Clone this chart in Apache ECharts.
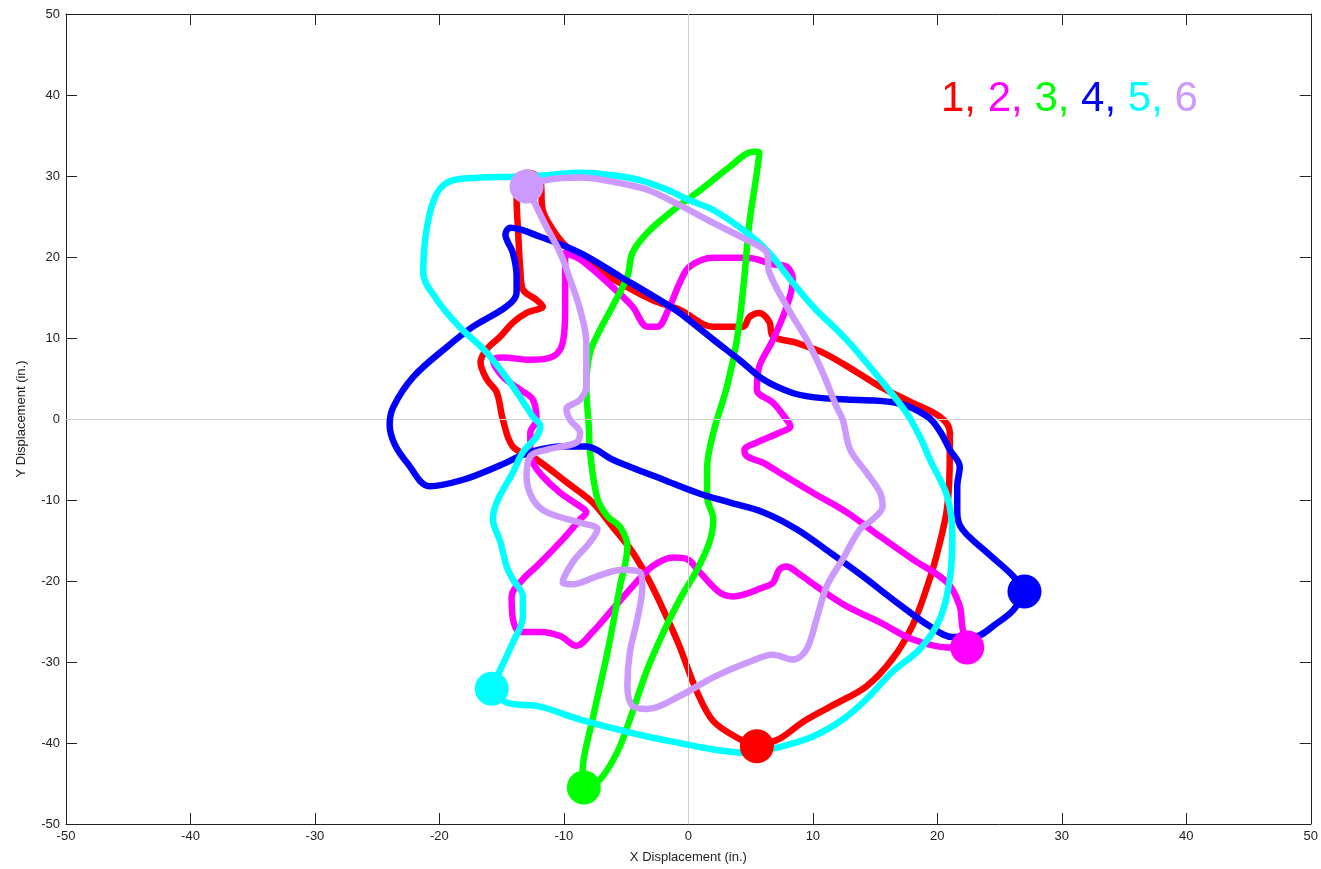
<!DOCTYPE html>
<html>
<head>
<meta charset="utf-8">
<script src="https://cdn.jsdelivr.net/npm/echarts@6/dist/echarts.min.js"></script>
<style>
  html, body { margin: 0; padding: 0; background: #ffffff; }
  #chart { width: 1321px; height: 869px; }
</style>
</head>
<body>
<div id="chart"></div>
<script>
// Walking paths, X/Y displacement in inches; each path starts (and ends) at its marker.
const path1 = [[5.5,-40.4],[4.1,-39.5],[2.0,-37.3],[0.7,-33.7],[-0.7,-28.1],[-1.2,-26.3],[-2.9,-20.7],[-4.5,-16.4],[-6.1,-13.3],[-7.7,-10.3],[-9.8,-7.8],[-12.2,-5.0],[-14.1,-3.4],[-14.9,-0.1],[-15.4,3.3],[-16.2,4.9],[-16.7,7.0],[-16.2,8.6],[-15.1,10.2],[-14.1,11.9],[-13.0,13.1],[-11.7,13.9],[-12.2,14.7],[-13.3,16.0],[-13.5,18.4],[-13.7,23.7],[-13.8,27.1],[-13.5,29.9],[-12.9,30.4],[-11.9,29.5],[-11.7,25.8],[-10.9,23.4],[-9.8,21.3],[-7.7,18.8],[-5.5,16.8],[-2.9,14.7],[-0.7,13.5],[2.0,11.4],[4.4,11.4],[4.9,12.6],[5.7,13.1],[6.5,12.0],[6.8,10.2],[8.7,9.4],[10.8,8.2],[13.2,6.1],[15.4,4.0],[18.0,2.0],[20.2,0.3],[21.0,-1.6],[21.0,-4.1],[20.8,-10.8],[20.0,-16.5],[19.2,-20.6],[18.0,-25.5],[16.4,-29.6],[14.3,-33.0],[11.4,-35.5],[9.2,-37.4],[7.3,-39.5],[5.5,-40.4]];

const path2 = [[22.4,-28.2],[20.8,-28.2],[18.0,-27.2],[15.4,-25.1],[12.7,-23.1],[10.6,-21.0],[8.7,-18.9],[7.9,-18.2],[7.3,-18.6],[6.8,-20.2],[6.0,-20.8],[3.6,-21.9],[2.5,-21.4],[0.9,-18.9],[-0.1,-17.3],[-1.2,-17.1],[-2.9,-18.2],[-4.5,-20.7],[-6.1,-23.5],[-7.7,-26.3],[-9.0,-28.0],[-10.3,-26.8],[-11.9,-26.3],[-13.5,-26.3],[-14.1,-24.7],[-14.2,-21.9],[-13.3,-19.8],[-12.2,-18.2],[-10.3,-15.2],[-8.7,-12.4],[-8.2,-11.5],[-8.7,-10.8],[-10.3,-9.1],[-11.7,-7.1],[-12.5,-5.4],[-12.7,-3.8],[-12.7,-1.7],[-12.2,-0.1],[-12.5,2.4],[-13.5,3.6],[-14.9,5.2],[-15.7,7.3],[-14.9,7.6],[-12.7,7.3],[-10.9,7.7],[-10.1,9.4],[-9.9,13.5],[-9.9,17.6],[-9.9,20.5],[-8.7,19.7],[-6.1,16.3],[-4.5,13.9],[-3.3,11.4],[-2.5,11.4],[-1.5,13.9],[-0.7,16.8],[0.1,18.8],[2.0,19.9],[4.7,19.9],[6.8,19.1],[7.9,18.8],[8.4,17.2],[7.9,13.9],[6.8,9.8],[5.7,6.5],[5.5,3.6],[6.8,2.0],[7.9,-0.1],[8.2,-0.9],[7.3,-1.7],[5.5,-2.9],[4.5,-3.8],[4.7,-4.6],[6.0,-5.4],[7.3,-6.6],[10.0,-9.1],[12.7,-11.5],[15.4,-14.5],[18.0,-17.3],[20.8,-20.2],[21.8,-23.1],[22.0,-25.6],[22.4,-28.2]];

const path3 = [[-8.4,-45.5],[-8.5,-43.6],[-7.7,-37.1],[-6.5,-28.8],[-5.5,-20.7],[-4.9,-15.7],[-5.5,-13.3],[-6.5,-12.0],[-7.3,-9.9],[-7.9,-4.1],[-8.0,-0.9],[-8.2,4.0],[-7.9,8.2],[-7.1,11.0],[-6.1,13.9],[-4.9,17.6],[-4.5,20.5],[-3.3,23.0],[-1.2,25.8],[0.9,28.2],[3.3,31.1],[5.2,33.0],[5.7,32.9],[5.5,30.4],[4.9,24.2],[4.4,16.0],[3.9,9.8],[3.1,4.0],[2.0,-1.7],[1.5,-6.2],[1.5,-9.6],[2.0,-12.4],[1.7,-15.2],[0.7,-18.6],[-0.7,-22.3],[-2.0,-26.3],[-3.3,-30.9],[-4.7,-37.1],[-5.7,-41.1],[-7.1,-44.5],[-8.4,-45.5]];

const path4 = [[27.0,-21.3],[26.1,-19.4],[24.0,-16.5],[22.0,-13.6],[21.6,-11.5],[21.6,-8.3],[21.8,-5.9],[21.0,-3.8],[20.2,-1.5],[19.2,0.3],[16.7,2.0],[12.7,2.4],[10.0,2.7],[8.2,3.3],[6.0,4.9],[4.1,7.3],[2.0,9.8],[-0.7,13.1],[-2.0,14.4],[-5.5,17.6],[-8.7,20.5],[-11.9,22.5],[-14.3,23.6],[-14.7,22.8],[-14.1,20.5],[-13.8,17.6],[-13.8,15.6],[-14.6,13.9],[-17.3,11.4],[-19.4,8.9],[-22.1,5.2],[-23.7,1.5],[-24.0,-0.7],[-23.6,-3.1],[-22.6,-5.4],[-20.8,-8.3],[-18.1,-7.5],[-15.4,-5.9],[-12.7,-4.1],[-10.1,-3.4],[-8.2,-3.4],[-6.1,-5.0],[-4.7,-5.9],[-2.0,-7.5],[0.7,-9.1],[3.3,-10.3],[6.0,-11.5],[8.7,-13.6],[11.4,-16.5],[14.0,-19.4],[16.7,-22.6],[19.4,-25.6],[21.2,-26.9],[22.9,-26.9],[24.8,-25.2],[26.1,-23.6],[27.0,-21.3]];

const path5 = [[-15.8,-33.3],[-15.1,-30.9],[-14.1,-27.6],[-13.3,-24.4],[-13.3,-21.9],[-14.1,-19.8],[-14.6,-18.2],[-15.1,-15.2],[-15.7,-12.4],[-15.4,-10.3],[-14.1,-6.6],[-13.3,-4.1],[-12.2,-2.2],[-11.9,-0.9],[-12.5,0.3],[-14.1,4.0],[-16.2,8.2],[-18.4,11.4],[-20.2,14.7],[-21.3,18.1],[-21.0,23.7],[-20.2,27.9],[-18.9,29.5],[-16.7,29.8],[-14.1,29.9],[-11.4,30.1],[-8.7,30.4],[-6.1,30.1],[-3.9,29.5],[-1.7,28.3],[0.1,27.0],[2.0,25.8],[4.7,23.0],[6.5,20.5],[8.2,17.2],[10.0,13.9],[12.7,9.8],[15.4,4.9],[17.5,0.8],[18.6,-2.2],[19.4,-5.0],[20.8,-9.6],[21.2,-14.5],[21.0,-19.8],[20.2,-24.7],[18.6,-28.4],[16.4,-31.2],[14.3,-34.6],[12.4,-37.1],[10.0,-39.2],[7.3,-40.5],[4.7,-41.2],[2.0,-40.8],[-0.7,-40.0],[-3.3,-39.2],[-8.7,-37.1],[-11.9,-35.5],[-14.6,-35.0],[-15.8,-33.3]];

const path6 = [[-13.0,28.7],[-11.4,29.5],[-8.7,29.8],[-6.1,29.3],[-3.3,28.3],[-0.7,26.4],[2.0,24.2],[4.7,22.1],[6.3,20.5],[6.5,18.1],[7.9,13.9],[9.5,9.8],[10.8,5.7],[11.9,1.5],[12.4,-0.1],[13.0,-3.8],[14.3,-6.6],[15.4,-9.1],[15.6,-10.8],[14.8,-12.4],[13.8,-13.6],[12.4,-17.3],[11.1,-20.7],[10.3,-24.7],[9.5,-28.4],[8.4,-29.7],[6.8,-29.1],[4.7,-30.1],[2.0,-31.9],[-0.7,-34.2],[-3.3,-35.8],[-4.5,-35.4],[-4.9,-32.9],[-4.7,-28.8],[-4.1,-24.7],[-3.7,-20.7],[-3.9,-18.9],[-5.3,-18.6],[-7.3,-19.4],[-9.3,-20.4],[-10.1,-20.2],[-9.3,-17.7],[-7.9,-15.2],[-7.3,-13.6],[-8.7,-12.8],[-11.4,-11.5],[-12.5,-9.9],[-13.0,-7.1],[-12.7,-4.6],[-11.4,-3.8],[-9.0,-2.9],[-8.7,-1.7],[-9.5,-0.1],[-9.8,1.2],[-8.7,2.4],[-8.2,4.0],[-8.2,9.4],[-8.7,13.5],[-9.5,17.2],[-10.3,20.5],[-11.4,23.7],[-12.2,26.2],[-13.0,28.7]];

const pathNames = ['1', '2', '3', '4', '5', '6'];
const pathColors = ['#ff0000', '#ff00ff', '#00ff00', '#0000ff', '#00ffff', '#cc99ff'];
const paths = [path1, path2, path3, path4, path5, path6];

const axisMin = -50, axisMax = 50, axisStep = 10;
const xTitle = 'X Displacement (in.)';
const yTitle = 'Y Displacement (in.)';

const font = "'Liberation Sans', Arial, sans-serif";
const tickText = { color: '#222', fontFamily: font, fontSize: 13 };

function frameAxis(position, withLabels, title) {
  return {
    type: 'value', position: position,
    min: axisMin, max: axisMax, interval: axisStep,
    axisLine: { show: true, onZero: false, lineStyle: { color: '#222', width: 1 } },
    axisTick: { show: true, inside: true, length: 11, lineStyle: { color: '#222' } },
    axisLabel: withLabels ? Object.assign({ show: true, margin: 6 }, tickText) : { show: false },
    splitLine: { show: false },
    name: title || '', nameLocation: 'middle',
    nameTextStyle: { color: '#222', fontFamily: font, fontSize: 13 }
  };
}

const xAxes = [frameAxis('bottom', true, xTitle), frameAxis('top', false)];
xAxes[0].nameGap = 27;
const yAxes = [frameAxis('left', true, yTitle), frameAxis('right', false)];
yAxes[0].nameGap = 38;

const series = [];
// zero reference lines
series.push({
  type: 'line', data: [[0, 0]], symbol: 'none', lineStyle: { width: 0 }, silent: true, z: 1,
  markLine: {
    silent: true, symbol: 'none', label: { show: false },
    lineStyle: { color: '#cfcfcf', width: 1, type: 'solid' },
    emphasis: { disabled: true },
    data: [{ xAxis: 0 }, { yAxis: 0 }]
  }
});
paths.forEach(function (p, i) {
  series.push({
    name: pathNames[i], type: 'line', data: p, smooth: 0.35,
    symbol: 'none', z: 2 + i, silent: true,
    lineStyle: { color: pathColors[i], width: 6.5, cap: 'round', join: 'round' }
  });
});
// start markers
series.push({
  type: 'scatter', symbolSize: 34, z: 20, silent: true,
  data: paths.map(function (p, i) {
    return { value: p[0], itemStyle: { color: pathColors[i], opacity: 1 } };
  })
});

const rich = {};
const keys = ['a', 'b', 'c', 'd', 'e', 'f'];
keys.forEach(function (k, i) { rich[k] = { color: pathColors[i], fontSize: 42, fontFamily: font }; });
const legendText = pathNames.map(function (n, i) {
  return '{' + keys[i] + '|' + n + (i < pathNames.length - 1 ? ',' : '') + '}';
}).join(' ');

const chart = echarts.init(document.getElementById('chart'), null, { renderer: 'canvas' });
chart.setOption({
  animation: false,
  backgroundColor: '#ffffff',
  grid: { left: 66, right: 10, top: 14, bottom: 44, containLabel: false },
  title: {
    text: legendText, left: 936, top: 73,
    textStyle: { fontSize: 42, fontFamily: font, fontWeight: 'normal', rich: rich }
  },
  xAxis: xAxes,
  yAxis: yAxes,
  series: series
});
</script>
</body>
</html>
